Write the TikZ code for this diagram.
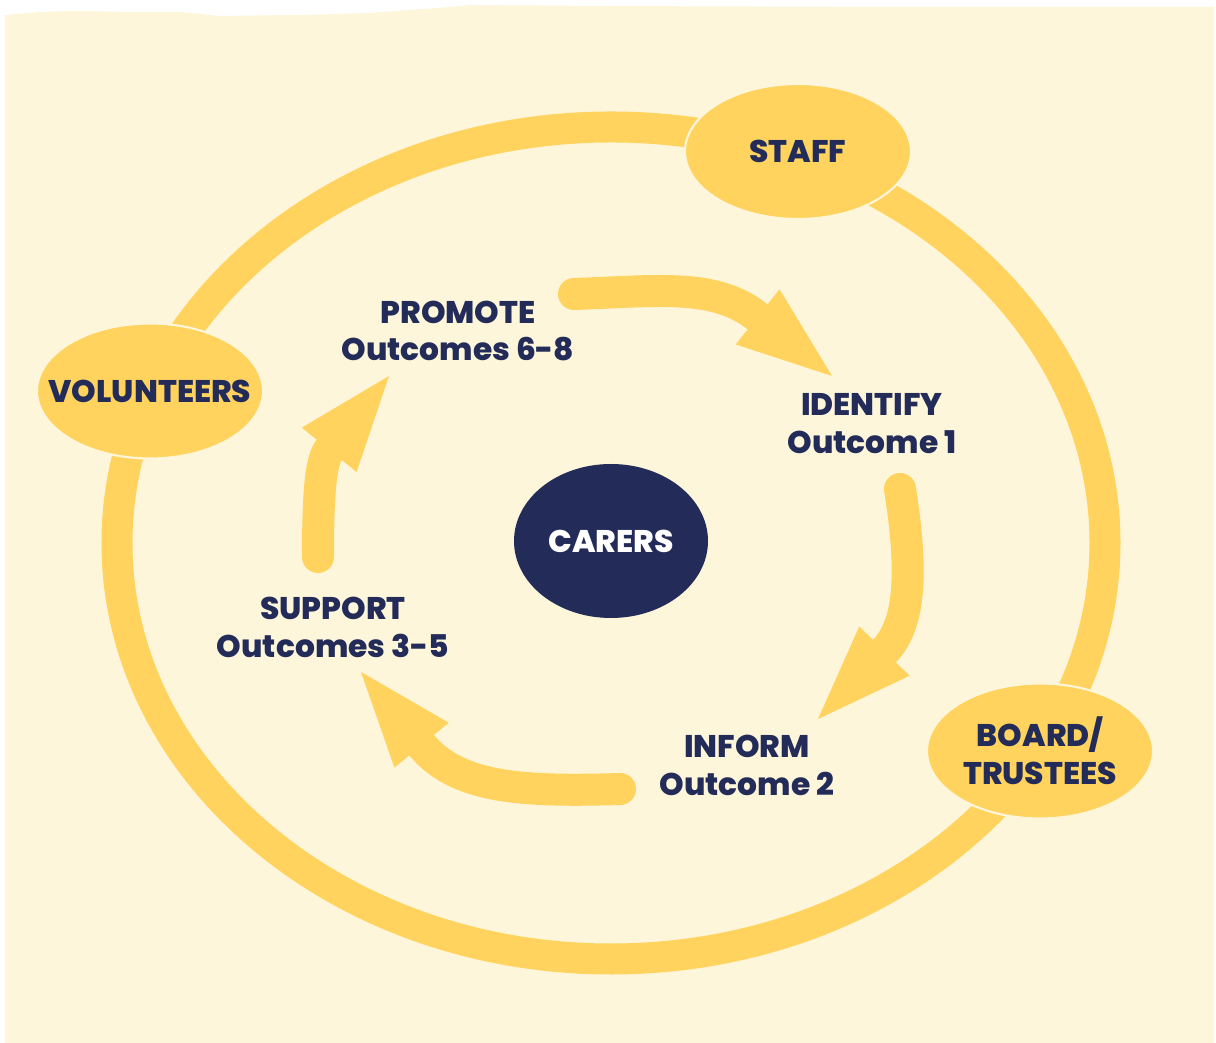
\documentclass[tikz,border=0pt]{standalone}
\usepackage{fontspec}
\setmainfont{Poppins}[BoldFont={Poppins ExtraBold}]
\usetikzlibrary{shapes.geometric,arrows.meta}
\definecolor{cream}{RGB}{254,246,218}
\definecolor{sun}{RGB}{255,211,94}
\definecolor{navy}{RGB}{35,44,89}
\tikzset{
    ring/.style={draw=sun,line width=0.31cm},
    role/.style={ellipse,fill=sun,draw=cream,line width=0.6pt,minimum width=2.26cm,minimum height=1.35cm,inner sep=0pt},
    rolelabel/.style={text=navy,font=\bfseries\fontsize{8.9}{10.8}\selectfont,align=center,inner sep=0pt},
    steplabel/.style={rolelabel},
    flow/.style={draw=sun,line width=0.32cm,line cap=round,-{Triangle[length=0.95cm,width=0.70cm,line width=0.5pt]}},
}
\begin{document}
\begin{tikzpicture}
        \useasboundingbox[fill=white] (-6.11,-5.00) rectangle (6.05,5.43);
        %% paper
        \fill[cream] (-6.06,-5.00) -- (-6.06,5.28) -- (-5.71,5.31) -- (-5.36,5.32) -- (-4.81,5.31)
            -- (-4.31,5.31) -- (-3.91,5.27) -- (-3.11,5.28) -- (-2.41,5.30) -- (-2.01,5.33)
            -- (-1.61,5.36) -- (-1.41,5.38) -- (-0.11,5.37) -- (2.89,5.36) -- (6.03,5.36)
            -- (6.03,-5.00) -- cycle;
        %% ring of people
        \draw[ring] (0,0) ellipse [x radius=4.94,y radius=4.16];
        \foreach \pos/\name/\txt in {{(1.87,3.915)}/staff/STAFF,{(-4.61,1.52)}/volunteers/VOLUNTEERS,{(4.29,-2.08)}/board/{BOARD/\\TRUSTEES}} {
            \node[role] (\name) at \pos {};
            \node[rolelabel] at (\name) {\txt};
        }
        %% carers
        \node[ellipse,fill=navy,minimum width=1.94cm,minimum height=1.54cm,inner sep=0pt,
            text=white,font=\bfseries\fontsize{8.9}{10.8}\selectfont] (carers) at (0,0.02) {CARERS};
        %% cycle of outcomes
        \node[steplabel] (promote) at (-1.53,2.12) {PROMOTE\\Outcomes 6-8};
        \node[steplabel] (identify) at (2.61,1.19) {IDENTIFY\\Outcome 1};
        \node[steplabel] (inform) at (1.36,-2.22) {INFORM\\Outcome 2};
        \node[steplabel] (support) at (-2.78,-0.845) {SUPPORT\\Outcomes 3-5};
        \coordinate (promote-out) at (-0.37,2.49);
        \coordinate (identify-in) at (2.21,1.67);
        \coordinate (identify-out) at (2.89,0.54);
        \coordinate (inform-in) at (2.07,-1.76);
        \coordinate (inform-out) at (0.09,-2.46);
        \coordinate (support-in) at (-2.50,-1.29);
        \coordinate (support-out) at (-2.93,-0.14);
        \coordinate (promote-in) at (-2.22,1.67);
        \draw[flow] (promote-out) .. controls (0.49,2.52) and (1.04,2.60) .. (identify-in);
        \draw[flow] (identify-out) .. controls (3.03,-0.35) and (2.98,-0.83) .. (inform-in);
        \draw[flow] (inform-out) .. controls (-0.91,-2.49) and (-1.54,-2.45) .. (support-in);
        \draw[flow] (support-out) .. controls (-2.93,0.53) and (-2.90,0.83) .. (promote-in);
    \end{tikzpicture}
\end{document}
